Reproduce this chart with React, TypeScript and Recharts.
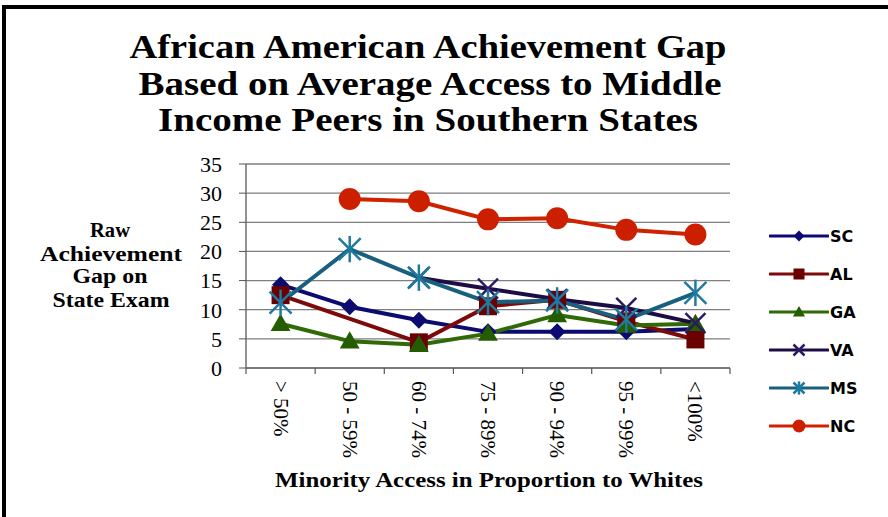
import React from "react";
import { LineChart, Line, XAxis, YAxis, CartesianGrid, Legend } from "recharts";

const categories = ["> 50%", "50 - 59%", "60 - 74%", "75 - 89%", "90 - 94%", "95 - 99%", "<100%"];
const scValues = [14.3, 10.5, 8.2, 6.2, 6.2, 6.2, 6.7];
const alValues = [12.5, null, 4.4, 10.6, 11.7, 8.0, 4.9];
const gaValues = [7.6, 4.6, 4.0, 5.9, 9.1, 7.3, 7.6];
const vaValues = [null, null, 15.5, 13.6, 11.8, 10.3, 7.7];
const msValues = [11.2, 20.4, 15.5, 11.3, 11.6, 8.3, 12.9];
const ncValues = [null, 29.0, 28.6, 25.5, 25.7, 23.7, 22.9];
const yTicks = [0, 5, 10, 15, 20, 25, 30, 35];

const data = categories.map((name, i) => ({
  name,
  SC: scValues[i],
  AL: alValues[i],
  GA: gaValues[i],
  VA: vaValues[i],
  MS: msValues[i],
  NC: ncValues[i],
}));

const W = 888;
const H = 517;
const PLOT_LEFT = 246;
const PLOT_RIGHT = 730;
const PLOT_TOP = 164;
const PLOT_BOTTOM = 368;
const BAND = (PLOT_RIGHT - PLOT_LEFT) / categories.length;
const LEGEND_W = 110;

type Shape = "diamond" | "square" | "triangle" | "x" | "star" | "circle";

const series: { key: string; color: string; marker: string; shape: Shape }[] = [
  { key: "SC", color: "#0b0b72", marker: "#0b0b72", shape: "diamond" },
  { key: "AL", color: "#7c0a0a", marker: "#6a0000", shape: "square" },
  { key: "GA", color: "#2f6a06", marker: "#245c00", shape: "triangle" },
  { key: "VA", color: "#1d0d44", marker: "#2a1a66", shape: "x" },
  { key: "MS", color: "#19607f", marker: "#1f7aa0", shape: "star" },
  { key: "NC", color: "#cf2200", marker: "#cc1f00", shape: "circle" },
];

function Marker({ shape, cx, cy, color, s }: { shape: Shape; cx: number; cy: number; color: string; s: number }) {
  switch (shape) {
    case "diamond":
      return <path d={`M${cx},${cy - s}L${cx + s},${cy}L${cx},${cy + s}L${cx - s},${cy}Z`} fill={color} />;
    case "square":
      return <rect x={cx - s} y={cy - s} width={2 * s} height={2 * s} fill={color} />;
    case "triangle":
      return <path d={`M${cx},${cy - s * 1.1}L${cx + s * 1.1},${cy + s * 0.8}L${cx - s * 1.1},${cy + s * 0.8}Z`} fill={color} />;
    case "x":
      return (
        <g stroke={color} strokeWidth={2.5}>
          <line x1={cx - s} y1={cy - s} x2={cx + s} y2={cy + s} />
          <line x1={cx - s} y1={cy + s} x2={cx + s} y2={cy - s} />
        </g>
      );
    case "star":
      return (
        <g stroke={color} strokeWidth={2.5}>
          <line x1={cx - s} y1={cy - s} x2={cx + s} y2={cy + s} />
          <line x1={cx - s} y1={cy + s} x2={cx + s} y2={cy - s} />
          <line x1={cx} y1={cy - s * 1.2} x2={cx} y2={cy + s * 1.2} />
        </g>
      );
    default:
      return <circle cx={cx} cy={cy} r={s} fill={color} />;
  }
}

const makeDot = (shape: Shape, color: string, s: number) => (p: any) => {
  if (p.cx == null || p.cy == null || p.value == null) return <g key={`e${p.index}`} />;
  return (
    <g key={`d${p.index}`}>
      <Marker shape={shape} cx={p.cx} cy={p.cy} color={color} s={s} />
    </g>
  );
};

const markerSize: Record<Shape, number> = {
  diamond: 8.5,
  square: 9,
  triangle: 9,
  x: 10,
  star: 11,
  circle: 11,
};

const XTick = (props: any) => {
  const { x, payload, index } = props;
  const last = index === categories.length - 1;
  const ty = PLOT_BOTTOM + 13;
  return (
    <g>
      <line x1={x - BAND / 2} x2={x - BAND / 2} y1={PLOT_BOTTOM} y2={PLOT_BOTTOM + 6} stroke="#555" strokeWidth={1.2} />
      {last && <line x1={x + BAND / 2} x2={x + BAND / 2} y1={PLOT_BOTTOM} y2={PLOT_BOTTOM + 6} stroke="#555" strokeWidth={1.2} />}
      <text
        x={x}
        y={ty}
        transform={`rotate(90, ${x}, ${ty})`}
        textAnchor="start"
        dominantBaseline="central"
        fontFamily="'Liberation Serif', serif"
        fontSize={21}
        fill="#000"
      >
        {payload.value}
      </text>
    </g>
  );
};

const renderLegend = () => (
  <div>
    {series.map((s) => (
      <div key={s.key} style={{ display: "flex", alignItems: "center", height: 38 }}>
        <svg width={60} height={20} style={{ display: "block" }}>
          <line x1={1} x2={59} y1={10} y2={10} stroke={s.color} strokeWidth={3} strokeLinecap="round" />
          <Marker shape={s.shape} cx={30} cy={10} color={s.marker} s={s.shape === "circle" ? 6.5 : 5.5} />
        </svg>
        <span
          style={{
            fontFamily: "'DejaVu Sans', sans-serif",
            fontWeight: "bold",
            fontSize: 16,
            color: "#000",
            marginLeft: 1,
          }}
        >
          {s.key}
        </span>
      </div>
    ))}
  </div>
);

export default function App() {
  const serif = "'Liberation Serif', serif";
  return (
    <div style={{ position: "absolute", left: 0, top: 0, width: W, height: H, background: "#fff" }}>
      <LineChart
        width={W}
        height={H}
        data={data}
        margin={{ top: PLOT_TOP, right: W - PLOT_RIGHT - LEGEND_W, bottom: H - PLOT_BOTTOM - 100, left: PLOT_LEFT - 80 }}
      >
        <CartesianGrid vertical={false} stroke="#7e7e7e" strokeWidth={1.3} />
        <XAxis
          dataKey="name"
          height={100}
          interval={0}
          padding={{ left: BAND / 2, right: BAND / 2 }}
          tickLine={false}
          axisLine={{ stroke: "#6e6e6e", strokeWidth: 1.5 }}
          tick={<XTick />}
        />
        <YAxis
          width={80}
          domain={[0, 35]}
          ticks={yTicks}
          interval={0}
          tickSize={7}
          tickMargin={17}
          axisLine={{ stroke: "#6e6e6e", strokeWidth: 1.5 }}
          tickLine={{ stroke: "#555" }}
          tick={{ fontFamily: serif, fontSize: 22, fill: "#000" }}
        />
        {series.map((s) => (
          <Line
            key={s.key}
            dataKey={s.key}
            type="linear"
            stroke={s.color}
            strokeWidth={4}
            connectNulls
            isAnimationActive={false}
            dot={makeDot(s.shape, s.marker, markerSize[s.shape])}
            activeDot={false}
          />
        ))}
        <Legend
          layout="vertical"
          verticalAlign="top"
          align="right"
          content={renderLegend}
          wrapperStyle={{ position: "absolute", left: 769, top: 217, width: LEGEND_W }}
        />
      </LineChart>
      <svg width={W} height={H} style={{ position: "absolute", left: 0, top: 0, pointerEvents: "none" }}>
        <rect x={2} y={5} width={W - 2} height={4} fill="#000" />
        <rect x={2} y={5} width={4} height={H - 5} fill="#000" />
        <g fontFamily={serif} fontWeight="bold" fontSize={34} textAnchor="middle" fill="#000">
          <text x={428} y={58} textLength={597} lengthAdjust="spacingAndGlyphs">African American Achievement Gap</text>
          <text x={430} y={95} textLength={583} lengthAdjust="spacingAndGlyphs">Based on Average Access to Middle</text>
          <text x={428} y={131} textLength={540} lengthAdjust="spacingAndGlyphs">Income Peers in Southern States</text>
        </g>
        <g fontFamily={serif} fontWeight="bold" fontSize={20} textAnchor="middle" fill="#000">
          <text x={110} y={237} textLength={40} lengthAdjust="spacingAndGlyphs">Raw</text>
          <text x={111} y={261} textLength={142} lengthAdjust="spacingAndGlyphs">Achievement</text>
          <text x={110} y={283} textLength={75} lengthAdjust="spacingAndGlyphs">Gap on</text>
          <text x={111} y={307} textLength={117} lengthAdjust="spacingAndGlyphs">State Exam</text>
        </g>
        <text
          x={489}
          y={487}
          fontFamily={serif}
          fontWeight="bold"
          fontSize={20}
          textAnchor="middle"
          textLength={428}
          lengthAdjust="spacingAndGlyphs"
          fill="#000"
        >
          Minority Access in Proportion to Whites
        </text>
      </svg>
    </div>
  );
}
